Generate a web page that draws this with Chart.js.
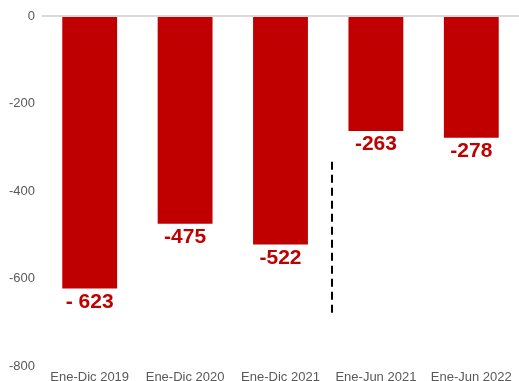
<!DOCTYPE html>
<html>
<head>
<meta charset="utf-8">
<script src="https://cdn.jsdelivr.net/npm/chart.js@4"></script>
<style>
  html, body { margin: 0; padding: 0; background: #fff; }
  #chart_saldo { display: block; }
</style>
</head>
<body>
<canvas id="chart_saldo" width="519" height="381"></canvas>
<script>
// datos del grafico
const categories = ['Ene-Dic 2019', 'Ene-Dic 2020', 'Ene-Dic 2021', 'Ene-Jun 2021', 'Ene-Jun 2022'];
const values = [-623, -475, -522, -263, -278];
const value_labels = ['- 623', '-475', '-522', '-263', '-278'];
const y_ticks = [0, -200, -400, -600, -800];

// etiquetas debajo de cada barra
const barLabels = {
  id: 'barLabels',
  afterDatasetsDraw(chart) {
    let ctx = chart.ctx;
    let meta = chart.getDatasetMeta(0);
    ctx.save();
    ctx.font = 'bold 21px "Liberation Sans", Arial, sans-serif';
    ctx.fillStyle = '#c00000';
    ctx.textAlign = 'center';
    ctx.textBaseline = 'top';
    meta.data.forEach((bar, i) => {
      ctx.fillText(value_labels[i], bar.x, bar.y + 3);
    });
    ctx.restore();
  }
};

// linea discontinua entre periodos anuales y semestrales
const separator = {
  id: 'separator',
  afterDraw(chart) {
    let ctx = chart.ctx;
    let x = chart.scales.x;
    let y = chart.scales.y;
    let px = x.getPixelForValue(2) + (x.getPixelForValue(3) - x.getPixelForValue(2)) * 0.54;
    ctx.save();
    ctx.strokeStyle = '#000';
    ctx.lineWidth = 2;
    ctx.setLineDash([8, 5]);
    ctx.beginPath();
    ctx.moveTo(px, y.getPixelForValue(-333));
    ctx.lineTo(px, y.getPixelForValue(-688));
    ctx.stroke();
    ctx.restore();
  }
};

let chart_saldo = document.getElementById('chart_saldo').getContext('2d');
let mychart = new Chart(chart_saldo, {
  type: 'bar',
  data: {
    labels: categories,
    datasets: [{
      data: values,
      backgroundColor: '#c00000',
      borderWidth: 0,
      barPercentage: 0.575,
      categoryPercentage: 1
    }]
  },
  options: {
    responsive: false,
    animation: false,
    layout: { padding: { top: 16, right: 0, left: 0, bottom: 0 } },
    plugins: {
      legend: { display: false },
      title: { display: false },
      tooltip: { enabled: false }
    },
    scales: {
      x: {
        grid: { display: false, drawTicks: false },
        border: { display: false },
        afterFit(scale) { scale.height = 15; },
        ticks: {
          color: '#595959',
          padding: 4,
          maxRotation: 0,
          font: { family: '"Liberation Sans", Arial, sans-serif', size: 13 }
        }
      },
      y: {
        min: -800,
        max: 0,
        afterFit(scale) { scale.width = 42; },
        afterBuildTicks(scale) { scale.ticks = y_ticks.map(v => ({ value: v })); },
        border: { display: false },
        grid: {
          drawTicks: false,
          color: ctx => ctx.tick && ctx.tick.value === 0 ? '#d9d9d9' : 'rgba(0,0,0,0)',
          lineWidth: 2
        },
        ticks: {
          color: '#595959',
          padding: 7,
          font: { family: '"Liberation Sans", Arial, sans-serif', size: 13 }
        }
      }
    }
  },
  plugins: [barLabels, separator]
});
</script>
</body>
</html>
